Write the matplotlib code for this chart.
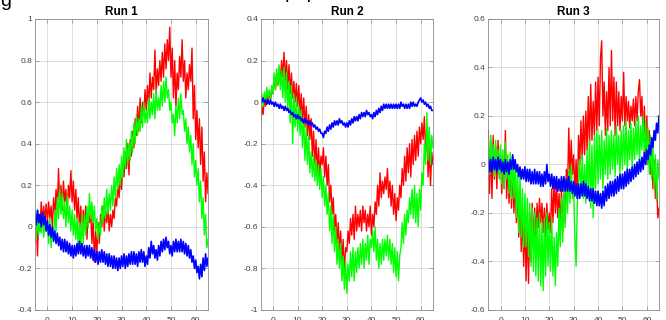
import numpy as np
import matplotlib
matplotlib.use("Agg")
from matplotlib import pyplot as plt
from matplotlib.ticker import FuncFormatter

plt.rcParams['font.family'] = ['Liberation Sans', 'DejaVu Sans']
plt.rcParams['axes.unicode_minus'] = False

# sample positions (every half unit from -5 to 65)
xs = np.linspace(-5, 65, 141)

titles = ["Run 1", "Run 2", "Run 3"]
ylims = [(-0.4, 1.0), (-1.0, 0.4), (-0.6, 0.6)]
xticks = [0, 10, 20, 30, 40, 50, 60]

# Run 1
r1 = [-0.08, 0.04, -0.14, 0.06, -0.02, 0.12, 0.01, 0.10, 0.03, 0.11,
      0.02, 0.12, 0.04, 0.10, 0.00, 0.14, 0.05, 0.18, 0.08, 0.28,
      0.10, 0.20, 0.08, 0.22, 0.12, 0.18, 0.06, 0.20, 0.14, 0.27,
      0.12, 0.22, 0.08, 0.18, 0.04, 0.14, -0.02, 0.10, -0.04, 0.08,
      0.00, 0.10, -0.06, 0.06, 0.02, 0.09, -0.08, 0.04, -0.17, -0.02,
      -0.14, 0.02, -0.08, 0.06, 0.00, 0.10, -0.02, 0.08, 0.02, 0.10,
      -0.02, 0.06, 0.00, 0.08, 0.04, 0.14, 0.10, 0.20, 0.14, 0.24,
      0.18, 0.30, 0.24, 0.36, 0.28, 0.40, 0.25, 0.42, 0.34, 0.46,
      0.38, 0.52, 0.44, 0.58, 0.46, 0.62, 0.50, 0.60, 0.54, 0.66,
      0.56, 0.68, 0.58, 0.74, 0.62, 0.72, 0.66, 0.85, 0.64, 0.76,
      0.68, 0.80, 0.70, 0.84, 0.72, 0.88, 0.76, 0.90, 0.80, 0.96,
      0.72, 0.86, 0.62, 0.80, 0.58, 0.74, 0.66, 0.82, 0.72, 0.90,
      0.70, 0.80, 0.62, 0.74, 0.66, 0.78, 0.70, 0.86, 0.52, 0.68,
      0.42, 0.56, 0.38, 0.52, 0.30, 0.48, 0.22, 0.36, 0.12, 0.26,
      0.16]
g1 = [0.04, -0.06, 0.08, -0.04, 0.05, -0.03, 0.06, -0.05, 0.03, -0.02,
      0.02, -0.08, 0.04, -0.10, 0.00, -0.06, 0.08, -0.02, 0.14, 0.04,
      0.18, 0.06, 0.16, 0.04, 0.12, 0.00, 0.15, 0.02, 0.10, -0.02,
      0.08, -0.04, 0.06, -0.06, 0.04, -0.10, 0.02, -0.12, 0.06, -0.08,
      0.06, -0.04, 0.10, 0.00, 0.16, 0.04, 0.12, 0.02, 0.10, -0.02,
      0.04, -0.06, 0.02, -0.04, 0.10, 0.02, 0.14, 0.04, 0.18, 0.06,
      0.16, 0.08, 0.20, 0.10, 0.24, 0.14, 0.28, 0.18, 0.30, 0.20,
      0.34, 0.24, 0.38, 0.28, 0.42, 0.30, 0.40, 0.32, 0.46, 0.36,
      0.50, 0.40, 0.54, 0.44, 0.52, 0.46, 0.58, 0.48, 0.60, 0.50,
      0.56, 0.50, 0.62, 0.52, 0.60, 0.54, 0.64, 0.52, 0.66, 0.56,
      0.62, 0.56, 0.68, 0.58, 0.70, 0.60, 0.72, 0.62, 0.66, 0.56,
      0.60, 0.50, 0.54, 0.44, 0.58, 0.50, 0.62, 0.52, 0.64, 0.54,
      0.56, 0.46, 0.52, 0.40, 0.48, 0.36, 0.44, 0.30, 0.40, 0.24,
      0.32, 0.20, 0.28, 0.12, 0.22, 0.04, 0.14, -0.04, 0.06, -0.10,
      -0.06]
b1 = [0.07, 0.01, 0.08, 0.02, 0.06, 0.00, 0.07, 0.01, 0.05, -0.02,
      0.03, -0.04, 0.01, -0.05, 0.00, -0.07, -0.02, -0.08, -0.03, -0.09,
      -0.05, -0.11, -0.06, -0.12, -0.06, -0.12, -0.07, -0.13, -0.08, -0.14,
      -0.09, -0.15, -0.09, -0.14, -0.08, -0.13, -0.07, -0.13, -0.08, -0.14,
      -0.09, -0.15, -0.09, -0.14, -0.09, -0.15, -0.10, -0.16, -0.11, -0.17,
      -0.12, -0.18, -0.12, -0.17, -0.11, -0.17, -0.12, -0.18, -0.13, -0.19,
      -0.13, -0.19, -0.14, -0.20, -0.14, -0.20, -0.15, -0.21, -0.15, -0.20,
      -0.14, -0.19, -0.13, -0.20, -0.14, -0.19, -0.13, -0.18, -0.12, -0.18,
      -0.12, -0.18, -0.13, -0.19, -0.12, -0.17, -0.11, -0.17, -0.12, -0.19,
      -0.14, -0.18, -0.10, -0.15, -0.07, -0.13, -0.09, -0.15, -0.11, -0.16,
      -0.09, -0.14, -0.07, -0.12, -0.06, -0.11, -0.05, -0.10, -0.07, -0.13,
      -0.09, -0.14, -0.07, -0.12, -0.06, -0.12, -0.07, -0.12, -0.06, -0.12,
      -0.07, -0.13, -0.08, -0.14, -0.09, -0.15, -0.11, -0.17, -0.14, -0.20,
      -0.16, -0.22, -0.19, -0.25, -0.18, -0.24, -0.15, -0.21, -0.13, -0.19,
      -0.15]

# Run 2
r2 = [-0.10, -0.02, -0.06, 0.02, -0.02, 0.04, 0.00, 0.05, 0.01, 0.06,
      0.04, 0.12, 0.06, 0.14, 0.08, 0.16, 0.10, 0.20, 0.12, 0.24,
      0.10, 0.20, 0.06, 0.18, 0.04, 0.14, 0.02, 0.10, 0.00, 0.09,
      -0.02, 0.08, -0.06, 0.04, -0.10, 0.02, -0.12, -0.02, -0.16, -0.06,
      -0.18, -0.08, -0.26, -0.14, -0.30, -0.18, -0.34, -0.22, -0.36, -0.26,
      -0.30, -0.22, -0.36, -0.26, -0.40, -0.30, -0.48, -0.40, -0.54, -0.46,
      -0.62, -0.54, -0.68, -0.58, -0.72, -0.62, -0.78, -0.66, -0.82, -0.70,
      -0.72, -0.62, -0.68, -0.56, -0.64, -0.54, -0.66, -0.50, -0.62, -0.54,
      -0.60, -0.52, -0.62, -0.50, -0.58, -0.52, -0.62, -0.54, -0.60, -0.50,
      -0.64, -0.54, -0.60, -0.48, -0.54, -0.40, -0.50, -0.34, -0.46, -0.38,
      -0.44, -0.36, -0.42, -0.32, -0.46, -0.38, -0.50, -0.40, -0.54, -0.44,
      -0.57, -0.46, -0.52, -0.40, -0.46, -0.32, -0.40, -0.26, -0.38, -0.22,
      -0.34, -0.20, -0.36, -0.18, -0.30, -0.16, -0.28, -0.14, -0.26, -0.12,
      -0.20, -0.10, -0.18, -0.07, -0.24, -0.12, -0.36, -0.22, -0.40, -0.24,
      -0.30]
g2 = [-0.04, 0.04, -0.02, 0.05, 0.00, 0.07, 0.02, 0.06, 0.01, 0.08,
      0.04, 0.14, 0.06, 0.16, 0.08, 0.18, 0.06, 0.15, 0.02, 0.17,
      0.00, 0.14, -0.04, 0.10, -0.10, 0.08, -0.20, 0.04, -0.12, 0.02,
      -0.14, -0.02, -0.16, -0.04, -0.22, -0.08, -0.28, -0.12, -0.30, -0.16,
      -0.34, -0.24, -0.36, -0.26, -0.38, -0.28, -0.40, -0.30, -0.42, -0.32,
      -0.46, -0.36, -0.50, -0.40, -0.54, -0.44, -0.62, -0.50, -0.68, -0.54,
      -0.72, -0.60, -0.78, -0.66, -0.80, -0.68, -0.86, -0.74, -0.90, -0.76,
      -0.92, -0.78, -0.86, -0.72, -0.84, -0.70, -0.86, -0.72, -0.82, -0.70,
      -0.80, -0.68, -0.78, -0.66, -0.80, -0.68, -0.76, -0.64, -0.78, -0.66,
      -0.70, -0.62, -0.72, -0.60, -0.76, -0.66, -0.80, -0.68, -0.78, -0.66,
      -0.76, -0.66, -0.74, -0.64, -0.76, -0.66, -0.78, -0.68, -0.82, -0.70,
      -0.84, -0.72, -0.86, -0.74, -0.70, -0.58, -0.68, -0.54, -0.64, -0.52,
      -0.58, -0.46, -0.54, -0.42, -0.56, -0.40, -0.58, -0.44, -0.60, -0.42,
      -0.52, -0.34, -0.40, -0.20, -0.30, -0.05, -0.28, -0.12, -0.30, -0.16,
      -0.22]
b2 = [0.02, 0.00, 0.02, 0.00, 0.01, -0.01, 0.01, -0.01, 0.01, -0.01,
      0.00, -0.02, 0.00, -0.02, -0.01, -0.03, -0.01, -0.03, -0.02, -0.04,
      -0.02, -0.04, -0.03, -0.05, -0.04, -0.06, -0.05, -0.07, -0.06, -0.08,
      -0.06, -0.08, -0.07, -0.09, -0.08, -0.10, -0.08, -0.10, -0.09, -0.11,
      -0.09, -0.11, -0.10, -0.12, -0.11, -0.13, -0.12, -0.14, -0.13, -0.15,
      -0.15, -0.17, -0.14, -0.15, -0.12, -0.14, -0.11, -0.13, -0.10, -0.12,
      -0.09, -0.11, -0.09, -0.11, -0.08, -0.10, -0.09, -0.11, -0.10, -0.12,
      -0.10, -0.12, -0.09, -0.11, -0.08, -0.10, -0.07, -0.09, -0.07, -0.09,
      -0.06, -0.08, -0.05, -0.07, -0.05, -0.07, -0.04, -0.06, -0.05, -0.07,
      -0.06, -0.08, -0.05, -0.07, -0.04, -0.06, -0.03, -0.05, -0.02, -0.04,
      -0.01, -0.03, -0.01, -0.03, -0.01, -0.03, -0.01, -0.03, -0.01, -0.03,
      -0.01, -0.03, -0.01, -0.03, 0.00, -0.02, -0.01, -0.03, -0.01, -0.03,
      -0.01, -0.03, 0.00, -0.02, 0.00, -0.02, -0.01, -0.02, 0.00, 0.01,
      0.02, 0.00, 0.01, -0.01, 0.00, -0.02, -0.01, -0.03, -0.02, -0.04,
      -0.04]

# Run 3
r3 = [0.14, -0.12, 0.10, -0.14, 0.12, -0.06, 0.08, -0.10, 0.10, -0.04,
      0.04, -0.12, 0.02, -0.10, 0.14, -0.14, 0.00, -0.16, 0.02, -0.18,
      -0.02, -0.20, -0.06, -0.24, -0.10, -0.30, -0.12, -0.36, -0.18, -0.42,
      -0.22, -0.48, -0.24, -0.49, -0.20, -0.40, -0.16, -0.34, -0.18, -0.30,
      -0.16, -0.26, -0.14, -0.24, -0.16, -0.28, -0.18, -0.30, -0.16, -0.27,
      -0.20, -0.28, -0.10, -0.24, -0.06, -0.20, -0.08, -0.22, -0.12, -0.26,
      -0.10, -0.28, -0.12, -0.24, -0.02, -0.10, 0.15, -0.06, 0.10, -0.04,
      0.04, -0.12, 0.02, -0.14, 0.12, 0.00, 0.18, 0.02, 0.20, 0.04,
      0.22, 0.06, 0.28, 0.08, 0.33, 0.10, 0.26, 0.12, 0.34, 0.14,
      0.36, 0.16, 0.44, 0.51, 0.20, 0.34, 0.12, 0.30, 0.14, 0.40,
      0.16, 0.47, 0.18, 0.36, 0.12, 0.34, 0.16, 0.30, 0.14, 0.28,
      0.18, 0.38, 0.16, 0.28, 0.18, 0.26, 0.15, 0.24, 0.18, 0.27,
      0.16, 0.28, 0.18, 0.30, 0.35, 0.20, 0.28, 0.10, 0.24, 0.04,
      0.20, 0.00, 0.14, -0.04, 0.08, -0.10, 0.02, -0.14, -0.06, -0.22,
      -0.18]
g3 = [0.10, -0.04, 0.12, -0.02, 0.08, -0.05, 0.10, -0.03, 0.06, -0.06,
      0.08, -0.08, 0.06, -0.10, 0.09, -0.06, 0.04, -0.12, 0.05, -0.14,
      0.02, -0.14, 0.00, -0.22, -0.02, -0.28, -0.04, -0.30, -0.10, -0.34,
      -0.12, -0.34, -0.14, -0.38, -0.16, -0.42, -0.18, -0.44, -0.20, -0.46,
      -0.22, -0.48, -0.20, -0.50, -0.24, -0.52, -0.22, -0.46, -0.20, -0.42,
      -0.24, -0.44, -0.22, -0.46, -0.30, -0.50, -0.28, -0.42, -0.18, -0.34,
      -0.14, -0.32, -0.10, -0.26, -0.06, -0.20, -0.02, -0.16, 0.00, -0.14,
      -0.10, -0.30, -0.42, -0.16, -0.08, 0.02, -0.12, 0.04, -0.14, 0.00,
      -0.16, 0.06, -0.12, 0.10, -0.18, 0.08, -0.22, 0.12, -0.10, 0.14,
      -0.08, 0.12, -0.06, 0.14, -0.10, 0.10, -0.04, 0.15, -0.06, 0.12,
      -0.04, 0.14, -0.02, 0.12, -0.05, 0.16, 0.00, 0.12, -0.04, 0.14,
      -0.02, 0.16, 0.00, 0.18, -0.04, 0.14, 0.02, 0.17, -0.02, 0.15,
      0.02, 0.18, 0.04, 0.20, 0.00, 0.16, 0.06, 0.20, 0.02, 0.18,
      0.00, 0.15, -0.04, 0.12, -0.06, 0.08, -0.10, 0.04, -0.15, 0.02,
      -0.06]
b3 = [0.03, -0.03, 0.02, -0.03, 0.03, -0.02, 0.02, -0.03, 0.03, -0.02,
      0.02, -0.03, 0.01, -0.04, 0.02, -0.03, 0.01, -0.04, 0.02, -0.02,
      0.04, -0.02, 0.02, -0.03, 0.00, -0.05, -0.01, -0.06, -0.02, -0.06,
      -0.01, -0.07, -0.02, -0.07, -0.02, -0.08, -0.03, -0.08, -0.02, -0.08,
      -0.03, -0.08, -0.03, -0.09, -0.04, -0.09, -0.03, -0.08, 0.00, -0.07,
      -0.04, -0.09, -0.04, -0.10, -0.05, -0.10, -0.05, -0.11, -0.06, -0.11,
      -0.05, -0.11, -0.05, -0.11, -0.06, -0.11, -0.05, -0.11, -0.07, -0.12,
      -0.07, -0.13, -0.08, -0.14, -0.08, -0.14, -0.08, -0.13, -0.07, -0.13,
      -0.08, -0.14, -0.09, -0.15, -0.10, -0.15, -0.10, -0.16, -0.11, -0.17,
      -0.11, -0.17, -0.12, -0.18, -0.11, -0.17, -0.09, -0.15, -0.08, -0.14,
      -0.07, -0.13, -0.07, -0.13, -0.06, -0.12, -0.05, -0.11, -0.04, -0.10,
      -0.04, -0.10, -0.03, -0.09, -0.02, -0.08, -0.02, -0.07, -0.01, -0.06,
      0.00, -0.05, 0.01, -0.04, 0.02, -0.03, 0.03, -0.02, 0.05, 0.00,
      0.06, 0.02, 0.08, 0.04, 0.11, 0.07, 0.14, 0.10, 0.17, 0.13,
      0.20]

runs = [(r1, g1, b1), (r2, g2, b2), (r3, g3, b3)]

# axes boxes in figure fraction (left, bottom, width, height)
boxes = [(0.0526, 0.0313, 0.2598, 0.9094),
         (0.3914, 0.0313, 0.2587, 0.9094),
         (0.7332, 0.0313, 0.2563, 0.9094)]

fig = plt.figure(figsize=(6.66, 3.2), dpi=100)

# bits of the cut-off figure title
fig.text(0.0, 1 - 6 / 320, "g", fontsize=14, va="baseline", ha="left", color="black")
fig.text(0.428, 1 + 2 / 320, "p  p", fontsize=14, va="baseline", ha="left", color="black")


def tick_fmt(v, pos):
    # matlab style labels, no "-0"
    return "%g" % (round(v, 2) + 0.0)


for box, title, ylim, (red, green, blue) in zip(boxes, titles, ylims, runs):
    ax = fig.add_axes(box)
    ax.plot(xs, red, color=(1, 0, 0), lw=1.0)
    ax.plot(xs, green, color=(0, 1, 0), lw=1.0)
    ax.plot(xs, blue, color=(0, 0, 1), lw=1.2)

    ax.set_xlim(-5, 65)
    ax.set_ylim(*ylim)
    ax.set_xticks(xticks)
    ax.set_yticks(np.arange(ylim[0], ylim[1] + 0.001, 0.2))
    ax.yaxis.set_major_formatter(FuncFormatter(tick_fmt))

    ax.grid(True, color="#d8d8d8", lw=0.6)
    ax.set_axisbelow(True)
    for s in ax.spines.values():
        s.set_color("#8a8a8a")
        s.set_linewidth(0.6)
    ax.tick_params(direction="in", length=3, width=0.5, colors="#8a8a8a",
                   labelcolor="#404040", labelsize=6, top=True, right=True, pad=2)
    ax.tick_params(axis="x", pad=5)
    ax.set_title(title, fontsize=8.5, fontweight="bold", pad=3)

fig.savefig("out.png", dpi=100)
